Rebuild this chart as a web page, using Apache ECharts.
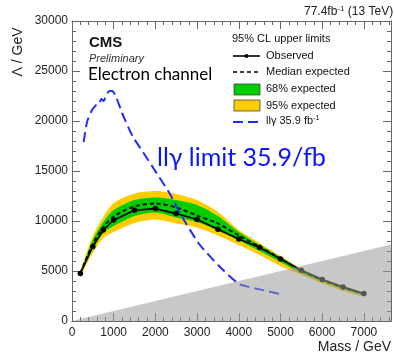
<!DOCTYPE html>
<html><head><meta charset="utf-8">
<script src="https://cdn.jsdelivr.net/npm/echarts@6/dist/echarts.min.js"></script>
<style>html,body{margin:0;padding:0;background:#fff}#c{width:394px;height:357px}</style>
</head><body><div id="c"></div>
<script>
// ---- data ----
const masses = [200, 500, 750, 1000, 1500, 2000, 2500, 3000, 3500, 4000, 4500, 5000, 5500, 6000, 6500, 7000];
const observed = [4750, 7450, 9100, 10100, 11070, 11240, 10740, 10150, 9170, 8200, 7340, 6200, 5070, 4140, 3400, 2740];
const median   = [4800, 7700, 9400, 10450, 11450, 11750, 11350, 10550, 9750, 8550, 7450, 6250, 5020, 4090, 3350, 2700];
const green68Low  = [4650, 7200, 8800, 9500, 10500, 10850, 10350, 9900, 9050, 8050, 7000, 5900, 4800, 3950, 3200, 2600];
const green68High = [4900, 8100, 9900, 11100, 12100, 12350, 12100, 11600, 10500, 8900, 7600, 6400, 5150, 4200, 3450, 2780];
const yellow95Low  = [4550, 6800, 8300, 8900, 9800, 10150, 9750, 9350, 8550, 7600, 6600, 5500, 4600, 3750, 3000, 2450];
const yellow95High = [5000, 8500, 10400, 11800, 12750, 13000, 12700, 12100, 10900, 9100, 7800, 6500, 5250, 4300, 3550, 2820];
const llgMass   = [280, 360, 480, 600, 660, 700, 760, 820, 900, 960, 1040, 1200, 1450, 1700, 1950, 2350, 2600, 3050, 3550, 4000, 4200, 5000];
const llgLambda = [17900, 19900, 21100, 21700, 21800, 22200, 22000, 22600, 23000, 23000, 22600, 20800, 18500, 16900, 15300, 12700, 10700, 7700, 5400, 3700, 3450, 2700];
const excludedMass = [0, 7650];
const xTicks = [0, 1000, 2000, 3000, 4000, 5000, 6000, 7000];
const yTicks = [0, 5000, 10000, 15000, 20000, 25000, 30000];

const X_MAX = 7650, Y_MAX = 30000;
const pair = (xs, ys) => xs.map((x, i) => [x, ys[i]]);

function bandSeries(name, low, high, color, z) {
  return {
    type: 'custom', name: name, z: z,
    data: masses.map((m, i) => [m, low[i], high[i]]),
    encode: {x: 0, y: [1, 2]},
    renderItem: function (params, api) {
      if (params.dataIndex !== 0) return null;
      const top = masses.map((m, i) => api.coord([m, high[i]]));
      const bot = masses.map((m, i) => api.coord([m, low[i]])).reverse();
      return {type: 'group', children: [
        {type: 'polyline', shape: {points: top, smooth: 0.3}, style: {stroke: null, fill: null}},
        {type: 'polygon', shape: {points: top.concat(bot), smooth: 0.25, smoothConstraint: false},
         style: {fill: color, stroke: null}}
      ]};
    }
  };
}

const chart = echarts.init(document.getElementById('c'), null, {renderer: 'canvas'});
const axisCol = '#666';
const labelFont = {fontFamily: 'Liberation Sans', fontSize: 12, color: '#222'};
const mkTick = () => ({show: true, inside: true, length: 8, lineStyle: {color: axisCol, width: 1}});
const mkMinor = () => ({show: true, splitNumber: 5, length: 4, lineStyle: {color: axisCol, width: 1}});
const mkLine = () => ({show: true, onZero: false, lineStyle: {color: axisCol, width: 1}});

chart.setOption({
  animation: false,
  grid: {left: 72, top: 21, width: 319, height: 300, containLabel: false, outerBoundsMode: 'none'},
  xAxis: [
    {type: 'value', min: 0, max: X_MAX, interval: 1000, position: 'bottom',
     axisLine: mkLine(), axisTick: mkTick(), minorTick: mkMinor(), splitLine: {show: false},
     axisLabel: Object.assign({margin: 6, formatter: v => xTicks.includes(v) ? String(v) : ''}, labelFont),
     name: 'Mass / GeV', nameLocation: 'end', nameGap: 0,
     nameTextStyle: {fontFamily: 'Liberation Sans', fontSize: 14, color: '#222', align: 'right', verticalAlign: 'top', padding: [19, 0, 0, 0]}},
    {type: 'value', min: 0, max: X_MAX, interval: 1000, position: 'top',
     axisLine: mkLine(), axisTick: mkTick(), minorTick: mkMinor(), splitLine: {show: false}, axisLabel: {show: false}}
  ],
  yAxis: [
    {type: 'value', min: 0, max: Y_MAX, interval: 5000, position: 'left',
     axisLine: mkLine(), axisTick: mkTick(), minorTick: mkMinor(), splitLine: {show: false},
     axisLabel: Object.assign({margin: 4, formatter: v => yTicks.includes(v) ? String(v) : ''}, labelFont)},
    {type: 'value', min: 0, max: Y_MAX, interval: 5000, position: 'right',
     axisLine: mkLine(), axisTick: mkTick(), minorTick: mkMinor(), splitLine: {show: false}, axisLabel: {show: false}}
  ],
  series: [
    bandSeries('95% expected', yellow95Low, yellow95High, '#ffcc00', 1),
    bandSeries('68% expected', green68Low, green68High, '#00cc00', 2),
    {type: 'line', name: 'Median expected', data: pair(masses, median), symbol: 'none', smooth: 0.3,
     lineStyle: {color: '#000', width: 1.8, type: [4, 3]}, z: 3},
    {type: 'line', name: 'Observed', data: pair(masses, observed), symbol: 'circle', symbolSize: 5.5,
     itemStyle: {color: '#000'}, lineStyle: {color: '#000', width: 1.6}, z: 4},
    {type: 'line', name: 'llγ 35.9', data: pair(llgMass, llgLambda), symbol: 'none', smooth: 0.2,
     lineStyle: {color: '#1f2cff', width: 2, type: [10, 5]}, z: 5},
    {type: 'line', name: 'excluded', data: pair(excludedMass, excludedMass), symbol: 'none',
     lineStyle: {width: 0, opacity: 0}, areaStyle: {color: '#9a9a9a', opacity: 0.55, origin: 'start'}, z: 6}
  ],
  graphic: [
    {type: 'text', x: 18, y: 52, rotation: Math.PI / 2, z: 10,
     style: {text: 'Λ / GeV', fontFamily: 'Liberation Sans', fontSize: 14, fill: '#222', align: 'center', verticalAlign: 'middle'}},
    {type: 'text', left: 304, top: 5, z: 10, style: {text: '{a|77.4fb}{s|-1}{a| (13 TeV)}', rich: {
      a: {fontFamily: 'Liberation Sans', fontSize: 12, fill: '#222'},
      s: {fontFamily: 'Liberation Sans', fontSize: 8, fill: '#222', verticalAlign: 'top', padding: [0, 0, 6, 0]}}}},
    {type: 'text', left: 89, top: 35, z: 10, style: {text: 'CMS', fontFamily: 'Liberation Sans', fontWeight: 'bold', fontSize: 15, fill: '#111'}},
    {type: 'text', left: 89, top: 53, z: 10, style: {text: 'Preliminary', fontFamily: 'Liberation Sans', fontStyle: 'italic', fontSize: 11, fill: '#333'}},
    {type: 'text', left: 88, top: 66, z: 10, style: {text: 'Electron channel', fontFamily: 'Lato', fontSize: 17, fill: '#000'}},
    {type: 'text', left: 157, top: 145, z: 10, style: {text: 'llγ limit 35.9/fb', fontFamily: 'Lato', fontSize: 25, fill: '#0a14ff'}},
    // legend
    {type: 'text', left: 232, top: 33, z: 10, style: {text: '95% CL upper limits', fontFamily: 'Liberation Sans', fontSize: 11, fill: '#111'}},
    {type: 'line', z: 10, shape: {x1: 233, y1: 56, x2: 260, y2: 56}, style: {stroke: '#000', lineWidth: 1.6}},
    {type: 'circle', z: 10, shape: {cx: 246.5, cy: 56, r: 2}, style: {fill: '#000'}},
    {type: 'text', left: 266, top: 50, z: 10, style: {text: 'Observed', fontFamily: 'Liberation Sans', fontSize: 11, fill: '#111'}},
    {type: 'line', z: 10, shape: {x1: 233, y1: 72, x2: 260, y2: 72}, style: {stroke: '#000', lineWidth: 1.6, lineDash: [4, 3]}},
    {type: 'text', left: 266, top: 66, z: 10, style: {text: 'Median expected', fontFamily: 'Liberation Sans', fontSize: 11, fill: '#111'}},
    {type: 'rect', z: 10, shape: {x: 234, y: 84, width: 26, height: 11}, style: {fill: '#00cc00', stroke: '#444', lineWidth: 0.8}},
    {type: 'text', left: 266, top: 83, z: 10, style: {text: '68% expected', fontFamily: 'Liberation Sans', fontSize: 11, fill: '#111'}},
    {type: 'rect', z: 10, shape: {x: 234, y: 100, width: 26, height: 11}, style: {fill: '#ffcc00', stroke: '#444', lineWidth: 0.8}},
    {type: 'text', left: 266, top: 100, z: 10, style: {text: '95% expected', fontFamily: 'Liberation Sans', fontSize: 11, fill: '#111'}},
    {type: 'line', z: 10, shape: {x1: 233, y1: 122, x2: 260, y2: 122}, style: {stroke: '#1f2cff', lineWidth: 2, lineDash: [10, 5]}},
    {type: 'text', left: 266, top: 115, z: 10, style: {text: '{a|llγ 35.9 fb}{s|-1}', rich: {
      a: {fontFamily: 'Liberation Sans', fontSize: 11, fill: '#111'},
      s: {fontFamily: 'Liberation Sans', fontSize: 7, fill: '#111', verticalAlign: 'top', padding: [0, 0, 5, 0]}}}}
  ]
});
</script></body></html>
